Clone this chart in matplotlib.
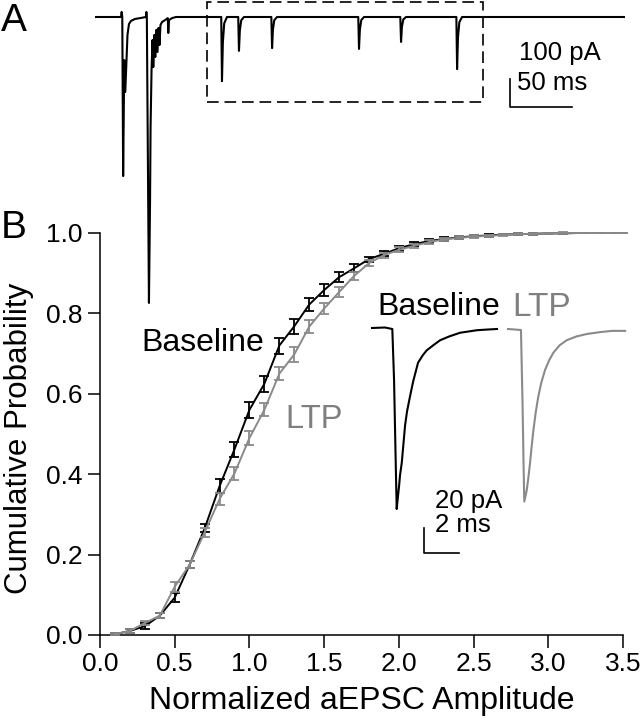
import numpy as np
import matplotlib.pyplot as plt
from matplotlib.patches import Rectangle
from matplotlib.ticker import FormatStrFormatter

plt.rcParams['font.family'] = ['Liberation Sans', 'DejaVu Sans']

# ---- panel B data: cumulative distributions (normalized amplitude) ----
amp = [0.1, 0.2, 0.3, 0.4, 0.5, 0.6, 0.7, 0.8, 0.9, 1.0,
       1.1, 1.2, 1.3, 1.4, 1.5, 1.6, 1.7, 1.8, 1.9, 2.0,
       2.1, 2.2, 2.3, 2.4, 2.5, 2.6, 2.7, 2.8, 2.9, 3.0,
       3.1, 3.2, 3.3, 3.4, 3.5]
base_cdf = [0.002, 0.010, 0.022, 0.048, 0.093, 0.175, 0.265, 0.370, 0.462, 0.560,
            0.625, 0.720, 0.768, 0.822, 0.858, 0.890, 0.912, 0.935, 0.948, 0.962,
            0.972, 0.980, 0.985, 0.989, 0.992, 0.994, 0.996, 0.997, 0.998, 0.999,
            0.999, 1.000, 1.000, 1.000, 1.000]
base_sem = [0.003, 0.004, 0.008, 0.006, 0.012, 0.008, 0.010, 0.018, 0.018, 0.020,
            0.020, 0.020, 0.018, 0.016, 0.014, 0.012, 0.010, 0.006, 0.006, 0.006,
            0.005, 0.005, 0.004, 0.003, 0.003, 0.003, 0.002, 0.002, 0.002, 0.002,
            0.001, 0.001, 0.001, 0.001, 0.001]
ltp_cdf = [0.002, 0.010, 0.030, 0.048, 0.120, 0.175, 0.255, 0.338, 0.402, 0.490,
           0.560, 0.650, 0.698, 0.767, 0.812, 0.853, 0.893, 0.925, 0.945, 0.958,
           0.968, 0.977, 0.984, 0.988, 0.991, 0.993, 0.995, 0.997, 0.998, 0.999,
           1.000, 1.000, 1.000, 1.000, 1.000]
ltp_sem = [0.003, 0.004, 0.006, 0.006, 0.012, 0.008, 0.012, 0.015, 0.016, 0.018,
           0.016, 0.016, 0.018, 0.016, 0.014, 0.012, 0.010, 0.008, 0.006, 0.006,
           0.005, 0.005, 0.004, 0.004, 0.003, 0.003, 0.003, 0.002, 0.002, 0.002,
           0.002, 0.001, 0.001, 0.001, 0.001]

# ---- panel A data: raw current trace (ms, pA) ----
burst_t = [0, 21.0, 21.5, 22.0, 22.7, 23.6, 24.4, 25.4, 26.2, 27.4, 29.0, 32.3, 36.3,
           41.1, 41.4, 41.8, 43.5, 44.4, 44.8, 45.6, 46.4, 47.0, 47.8, 48.6, 49.4,
           50.4, 51.2, 52.0, 52.8, 54.0, 56.5, 58.7, 59.1, 59.7, 62.1, 65.3]
burst_i = [0, 0, 18, 0, -568, -154, -268, -154, -64, -25, -14, -7, -4,
           0, 18, 0, -1021, -654, -396, -189, -82, -179, -64, -143, -46,
           -125, -39, -100, -29, -18, -11, -4, -57, -11, -4, 0]
event_t = [102.4, 116.1, 142.8, 212.9, 246.8, 292.0]
event_i = [-229, -121, -111, -114, -89, -186]
event_shape_dt = [-0.6, 0.0, 0.7, 1.8, 4.0]
event_shape_frac = [0.0, 1.0, 0.4, 0.1, 0.0]
trace_end = 427.4

# ---- inset data: averaged aEPSCs (ms, pA) ----
base_wave_t = [0.0, 0.74, 1.16, 1.26, 1.34, 1.41, 1.49, 1.55, 1.60, 1.70, 1.89, 2.0,
               2.17, 2.35, 2.63, 2.9, 3.13, 3.5, 3.89, 4.4, 5.03, 5.98, 6.5, 7.14]
base_wave_i = [0.8, 1.2, 0.0, -41, -97, -144, -133, -125, -117, -107, -77, -66,
               -54, -42, -27, -21, -17, -13, -9, -6, -3, -1, -0.5, 0]
ltp_wave_t = [0.0, 0.74, 0.83, 0.89, 0.93, 1.07, 1.17, 1.26, 1.35, 1.45, 1.58, 1.73,
              1.9, 2.11, 2.35, 2.59, 2.95, 3.35, 3.9, 4.50, 5.26, 5.94, 6.69]
ltp_wave_i = [0.0, -0.8, -60, -110, -138, -129, -118, -107, -94, -81, -67, -54,
              -43, -33, -25, -19, -13, -9, -6, -4, -2.5, -1.5, -1.5]

W, H = 642, 719
fig = plt.figure(figsize=(W / 100, H / 100), dpi=100)


def px_rect(x0, y0, x1, y1):
    return [x0 / W, 1 - y1 / H, (x1 - x0) / W, (y1 - y0) / H]


gray = '#8a8a8a'

# ---------------- panel B ----------------
axB = fig.add_axes(px_rect(100, 233, 623, 635))
axB.errorbar(amp, base_cdf, yerr=base_sem, color='black', lw=1.4,
             elinewidth=1.3, capsize=3.6, capthick=1.3, clip_on=False, zorder=3)
axB.errorbar(amp, ltp_cdf, yerr=ltp_sem, color=gray, lw=1.4,
             elinewidth=1.3, capsize=3.6, capthick=1.3, clip_on=False, zorder=4)
axB.set_xlim(0, 3.5)
axB.set_ylim(0, 1.0)
axB.set_xticks(np.arange(0, 3.51, 0.5))
axB.set_yticks(np.arange(0, 1.01, 0.2))
axB.xaxis.set_major_formatter(FormatStrFormatter('%.1f'))
axB.yaxis.set_major_formatter(FormatStrFormatter('%.1f'))
for s in ['top', 'right']:
    axB.spines[s].set_visible(False)
for s in ['left', 'bottom']:
    axB.spines[s].set_linewidth(1.1)
axB.tick_params(direction='out', length=9, width=1.1, labelsize=19)
axB.tick_params(axis='x', pad=3)
axB.tick_params(axis='y', pad=3.5)
axB.set_xlabel('Normalized aEPSC Amplitude', fontsize=23)
axB.set_ylabel('Cumulative Probability', fontsize=22.5)
axB.xaxis.set_label_coords(0.5, -0.128)
axB.yaxis.set_label_coords(-0.126, 0.49)
axB.text(0.28, 0.726, 'Baseline', fontsize=23, color='black', va='center')
axB.text(1.24, 0.537, 'LTP', fontsize=23.5, color='#7f7f7f', va='center')

# ---------------- panel A ----------------
axA = fig.add_axes(px_rect(95, 0, 625, 320), zorder=5)
axA.patch.set_visible(False)
axA.axis('off')
tA = list(burst_t)
iA = list(burst_i)
for et, ei in zip(event_t, event_i):
    for dt, fr in zip(event_shape_dt, event_shape_frac):
        tA.append(et + dt)
        iA.append(ei * fr)
tA.append(trace_end)
iA.append(0)
axA.plot(tA, iA, color='black', lw=1.5)
axA.set_xlim(0, 427.4)
axA.set_ylim(-1082, 60.7)
# dashed box around the zoomed region
axA.add_patch(Rectangle((90.3, -303.6), 222.3, 357.2, fill=False,
                        ls=(0, (7, 3.5)), lw=1.2, color='black'))
# scale bar 100 pA / 50 ms
sx, sy = 334.7, -321
axA.plot([sx, sx, sx + 50], [sy + 100, sy, sy], color='black', lw=1.2)
axA.text(342.2, -128, '100 pA', fontsize=18.5, va='center', ha='left')
axA.text(340.6, -236, '50 ms', fontsize=18.5, va='center', ha='left')

# ---------------- inset traces ----------------
axI = fig.add_axes(px_rect(360, 285, 640, 560), zorder=6)
axI.patch.set_visible(False)
axI.axis('off')
ltp_offset = 7.77
axI.plot(base_wave_t, base_wave_i, color='black', lw=1.5)
axI.plot(np.array(ltp_wave_t) + ltp_offset, ltp_wave_i, color=gray, lw=1.5)
axI.set_xlim(-0.686, 15.31)
axI.set_ylim(-184.8, 35.2)
bx, by = 2.97, -179.2
axI.plot([bx, bx, bx + 2], [by + 20, by, by], color='black', lw=1.2)
axI.text(3.6, -137.6, '20 pA', fontsize=18.5, va='center', ha='left')
axI.text(3.6, -156.8, '2 ms', fontsize=18.5, va='center', ha='left')
axI.text(0.29, 17.6, 'Baseline', fontsize=23, va='center', ha='left', color='black')
axI.text(8.0, 17.6, 'LTP', fontsize=24, va='center', ha='left', color='#7f7f7f')

# panel letters
fig.text(1 / W, 1 - 21 / H, 'A', fontsize=28, va='center', ha='left')
fig.text(1 / W, 1 - 228 / H, 'B', fontsize=28, va='center', ha='left')

fig.savefig('out.png', dpi=100)
